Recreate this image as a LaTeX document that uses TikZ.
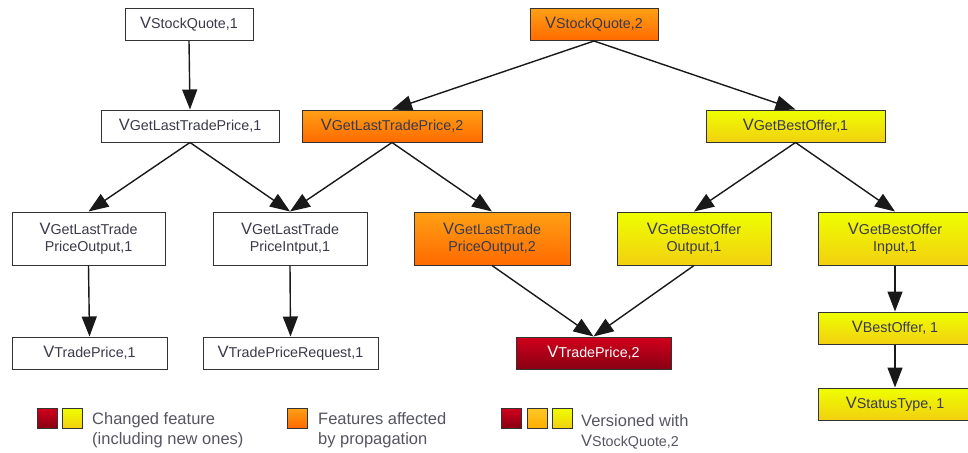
\documentclass[tikz,border=0pt]{standalone}
\usepackage{fontspec}
\setmainfont{Liberation Sans}
\usetikzlibrary{arrows.meta}
\definecolor{txt}{HTML}{3A3A4A}
\definecolor{legtxt}{HTML}{555560}
\definecolor{or1}{HTML}{FFA015}
\definecolor{or2}{HTML}{FF6A00}
\definecolor{ye1}{HTML}{EEFF00}
\definecolor{ye2}{HTML}{F2D010}
\definecolor{re1}{HTML}{D2001C}
\definecolor{re2}{HTML}{880012}
\definecolor{go1}{HTML}{FFC828}
\definecolor{go2}{HTML}{FFAE00}
\newcommand{\bigV}{{\fontsize{16.5}{16}\selectfont V}}
\begin{document}
\begin{tikzpicture}[x=1pt,y=-1pt,
  box/.style={draw=black!80, line width=1pt, minimum height=32pt, inner sep=0pt,
    align=center, font=\fontsize{14.3}{17}\selectfont, text=txt},
  plain/.style={box, fill=white},
  orng/.style={box, top color=or1, bottom color=or2},
  ylw/.style={box, top color=ye1, bottom color=ye2},
  redb/.style={box, top color=re1, bottom color=re2, text=white},
  tall/.style={minimum height=53pt},
  conn/.style={line width=1.4pt, draw=black!90, -{Triangle[length=20pt,width=15pt]}},
  sq/.style={draw=black!80, line width=1pt, minimum width=20pt, minimum height=20pt, inner sep=0pt},
  leg/.style={anchor=west, inner sep=0pt, align=left, text=legtxt, font=\fontsize{16.5}{20}\selectfont}]
\useasboundingbox (0,0) rectangle (968,452);

% row 1
\node[plain, minimum width=128pt] (sq1) at (189,24.5) {\bigV StockQuote,1};
\node[orng, minimum width=128pt] (sq2) at (594,24.5) {\bigV StockQuote,2};
% row 2
\node[plain, minimum width=178pt] (gl1) at (190,126) {\bigV GetLastTradePrice,1};
\node[orng, minimum width=180pt] (gl2) at (392,126) {\bigV GetLastTradePrice,2};
\node[ylw, minimum width=179pt] (gbo) at (795.5,126) {\bigV GetBestOffer,1};
% row 3
\node[plain, tall, minimum width=153pt] (o1) at (88.5,238.5) {\bigV GetLastTrade\\PriceOutput,1};
\node[plain, tall, minimum width=154pt] (i1) at (290,238.5) {\bigV GetLastTrade\\PriceIntput,1};
\node[orng, tall, minimum width=156pt] (o2) at (492,238.5) {\bigV GetLastTrade\\PriceOutput,2};
\node[ylw, tall, minimum width=154pt] (bo) at (694,238.5) {\bigV GetBestOffer\\Output,1};
\node[ylw, tall, minimum width=153pt] (bi) at (895,238.5) {\bigV GetBestOffer\\Input,1};
% row 4
\node[plain, minimum width=155pt] (tp1) at (89.5,353) {\bigV TradePrice,1};
\node[plain, minimum width=175pt] (tpr) at (290.5,353) {\bigV TradePriceRequest,1};
\node[redb, minimum width=155pt] (tp2) at (593.5,353) {\bigV TradePrice,2};
\node[ylw, minimum width=154pt] (bof) at (895,328) {\bigV BestOffer, 1};
\node[ylw, minimum width=154pt] (st) at (895,404) {\bigV StatusType, 1};

% connectors
\draw[conn] (sq1.south) -- (gl1.north);
\draw[conn] (sq2.south) -- (gl2.north);
\draw[conn] (sq2.south) -- (gbo.north);
\draw[conn] (gl1.south) -- (o1.north);
\draw[conn] (gl1.south) -- (i1.north);
\draw[conn] (gl2.south) -- (i1.north);
\draw[conn] (gl2.south) -- (o2.north);
\draw[conn] (gbo.south) -- (bo.north);
\draw[conn] (gbo.south) -- (bi.north);
\draw[conn] (o1.south) -- (tp1.north);
\draw[conn] (i1.south) -- (tpr.north);
\draw[conn] (o2.south) -- (tp2.north);
\draw[conn] (bo.south) -- (tp2.north);
\draw[conn] (bi.south) -- (bof.north);
\draw[conn] (bof.south) -- (st.north);

% legend
\node[sq, top color=re1, bottom color=re2] (l1a) at (47,418) {};
\node[sq, top color=ye1, bottom color=ye2] (l1b) at (72,418) {};
\node[leg] (l1t) at (92,430) {Changed feature\\(including new ones)};
\node[sq, top color=or1, bottom color=or2] (l2a) at (297,418) {};
\node[leg] (l2t) at (318,430) {Features affected\\by propagation};
\node[sq, top color=re1, bottom color=re2] (l3a) at (511,418) {};
\node[sq, top color=go1, bottom color=go2] (l3b) at (537,418) {};
\node[sq, top color=ye1, bottom color=ye2] (l3c) at (562,418) {};
\node[leg] (l3t) at (581,421) {Versioned with};
\node[leg, font=\fontsize{14.3}{17}\selectfont] (l3s) at (581,442) {\bigV StockQuote,2};
\end{tikzpicture}
\end{document}
